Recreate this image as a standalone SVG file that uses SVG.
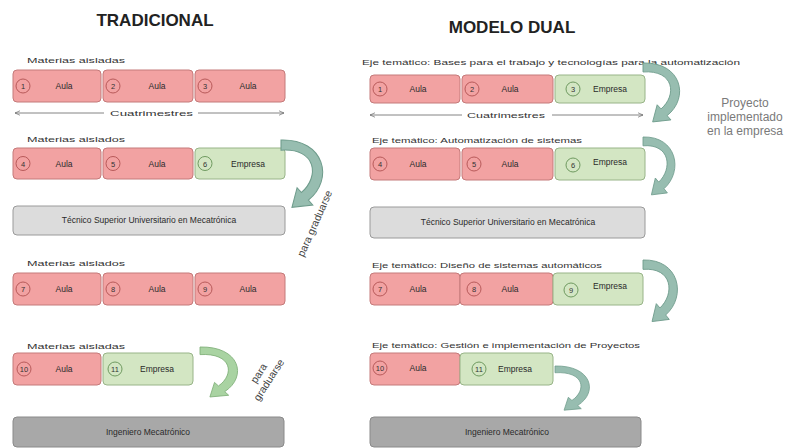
<svg xmlns="http://www.w3.org/2000/svg" width="800" height="448" viewBox="0 0 800 448">
<style>
text{font-family:"Liberation Sans",Arial,sans-serif;fill:#333}
.title{font-size:17px;font-weight:bold;fill:#222}
.lbl{font-size:8px}
.bt{font-size:8.5px;text-anchor:middle;fill:#2a2a2a}
.num{font-size:7.5px;text-anchor:middle}
.red{fill:#f2a2a2;stroke:#c47a7a;stroke-width:1}
.grn{fill:#d3e6c3;stroke:#98b488;stroke-width:1}
.lg{fill:#dcdcdc;stroke:#9a9a9a;stroke-width:1}
.dg{fill:#a8a8a8;stroke:#8a8a8a;stroke-width:1}
.cr{fill:none;stroke:#b85a5a;stroke-width:1}
.cg{fill:none;stroke:#6f9a60;stroke-width:1}
.ln{stroke:#666;stroke-width:0.8;fill:none}
.ca{fill:#97bdb0;stroke:#6f9c8c;stroke-width:0.8}
.cag{fill:#a9d3a2;stroke:#7faf78;stroke-width:0.8}
.rot{font-size:10.5px;text-anchor:middle;fill:#444}
.proj{font-size:12px;fill:#7a7a7a;text-anchor:middle}
</style>
<defs>
<marker id="oa" viewBox="0 0 10 10" refX="9" refY="5" markerWidth="7" markerHeight="7" orient="auto-start-reverse">
<path d="M0,1 L9,5 L0,9" fill="none" stroke="#666" stroke-width="1.2"/>
</marker>
<path id="carrow" d="M0,0 C33,-1 40,31 20.6,47 L23.9,50.8 L8.25,52.6 L12.1,37.3 L15.4,41 C29,29 27,6 0,8 Z"/>
</defs>
<rect width="800" height="448" fill="#fff"/>

<text class="title" x="155" y="26" text-anchor="middle">TRADICIONAL</text>
<text class="title" x="512" y="33" text-anchor="middle">MODELO DUAL</text>

<!-- LEFT COLUMN -->
<text class="lbl" x="27" y="63" textLength="98" lengthAdjust="spacingAndGlyphs">Materias aisladas</text>
<g id="L1"><rect class="red" x="13" y="70" width="88" height="32" rx="4"/><circle class="cr" cx="23" cy="86" r="7"/><text class="num" x="23" y="89">1</text><text class="bt" x="64" y="89">Aula</text></g>
<g id="L2"><rect class="red" x="103" y="70" width="90" height="32" rx="4"/><circle class="cr" cx="113" cy="86" r="7"/><text class="num" x="113" y="89">2</text><text class="bt" x="157" y="89">Aula</text></g>
<g id="L3"><rect class="red" x="195" y="70" width="90" height="32" rx="4"/><circle class="cr" cx="205" cy="86" r="7"/><text class="num" x="205" y="89">3</text><text class="bt" x="248" y="89">Aula</text></g>
<text class="lbl" x="110" y="116" textLength="83" lengthAdjust="spacingAndGlyphs">Cuatrimestres</text>

<text class="lbl" x="27" y="142" textLength="98" lengthAdjust="spacingAndGlyphs">Materias aislados</text>
<g id="L4"><rect class="red" x="13" y="148" width="88" height="31" rx="4"/><circle class="cr" cx="23" cy="163.5" r="7"/><text class="num" x="23" y="166.5">4</text><text class="bt" x="64" y="166.5">Aula</text></g>
<g id="L5"><rect class="red" x="103" y="148" width="90" height="31" rx="4"/><circle class="cr" cx="113" cy="163.5" r="7"/><text class="num" x="113" y="166.5">5</text><text class="bt" x="157" y="166.5">Aula</text></g>
<g id="L6"><rect class="grn" x="195" y="148" width="90" height="31" rx="4"/><circle class="cg" cx="205" cy="163.5" r="7"/><text class="num" x="205" y="166.5">6</text><text class="bt" x="248" y="166.5">Empresa</text></g>
<g id="LTSU"><rect class="lg" x="13" y="206" width="272" height="29" rx="4"/><text class="bt" x="149" y="223">Técnico Superior Universitario en Mecatrónica</text></g>

<text class="lbl" x="27" y="266" textLength="98" lengthAdjust="spacingAndGlyphs">Materias aislados</text>
<g id="L7"><rect class="red" x="13" y="273" width="88" height="32" rx="4"/><circle class="cr" cx="23" cy="289" r="7"/><text class="num" x="23" y="292">7</text><text class="bt" x="64" y="292">Aula</text></g>
<g id="L8"><rect class="red" x="103" y="273" width="90" height="32" rx="4"/><circle class="cr" cx="113" cy="289" r="7"/><text class="num" x="113" y="292">8</text><text class="bt" x="157" y="292">Aula</text></g>
<g id="L9"><rect class="red" x="195" y="273" width="90" height="32" rx="4"/><circle class="cr" cx="205" cy="289" r="7"/><text class="num" x="205" y="292">9</text><text class="bt" x="248" y="292">Aula</text></g>

<text class="lbl" x="27" y="349" textLength="98" lengthAdjust="spacingAndGlyphs">Materias aisladas</text>
<g id="L10"><rect class="red" x="13" y="353" width="88" height="32" rx="4"/><circle class="cr" cx="24" cy="369" r="7"/><text class="num" x="24" y="372">10</text><text class="bt" x="64" y="372">Aula</text></g>
<g id="L11"><rect class="grn" x="103" y="353" width="90" height="32" rx="4"/><circle class="cg" cx="115" cy="369" r="7"/><text class="num" x="115" y="372">11</text><text class="bt" x="157" y="372">Empresa</text></g>
<g id="LING"><rect class="dg" x="13" y="417" width="271" height="30" rx="4"/><text class="bt" x="148" y="435">Ingeniero Mecatrónico</text></g>

<text class="rot" transform="translate(318,225) rotate(-66)">para graduarse</text>
<text class="rot" transform="translate(266,378) rotate(-57)"><tspan x="0" y="-5">para</tspan><tspan x="0" y="7">graduarse</tspan></text>

<!-- RIGHT COLUMN -->
<text class="lbl" x="362" y="65" textLength="378" lengthAdjust="spacingAndGlyphs">Eje temático: Bases para el trabajo y tecnologías para la automatización</text>
<g id="R1"><rect class="red" x="370" y="75" width="90" height="28" rx="4"/><circle class="cr" cx="380" cy="89" r="7"/><text class="num" x="380" y="92">1</text><text class="bt" x="418" y="92">Aula</text></g>
<g id="R2"><rect class="red" x="462" y="75" width="91" height="28" rx="4"/><circle class="cr" cx="472" cy="89" r="7"/><text class="num" x="472" y="92">2</text><text class="bt" x="510" y="92">Aula</text></g>
<g id="R3"><rect class="grn" x="555" y="75" width="90" height="28" rx="4"/><circle class="cg" cx="573" cy="89" r="7"/><text class="num" x="573" y="92">3</text><text class="bt" x="610" y="92">Empresa</text></g>
<text class="lbl" x="467" y="118" textLength="78" lengthAdjust="spacingAndGlyphs">Cuatrimestres</text>

<text class="lbl" x="372" y="143" textLength="210" lengthAdjust="spacingAndGlyphs">Eje temático: Automatización de sistemas</text>
<g id="R4"><rect class="red" x="370" y="148" width="90" height="32" rx="4"/><circle class="cr" cx="380" cy="164" r="7"/><text class="num" x="380" y="167">4</text><text class="bt" x="418" y="167">Aula</text></g>
<g id="R5"><rect class="red" x="462" y="148" width="91" height="32" rx="4"/><circle class="cr" cx="474" cy="164" r="7"/><text class="num" x="474" y="167">5</text><text class="bt" x="510" y="167">Aula</text></g>
<g id="R6"><rect class="grn" x="555" y="148" width="90" height="32" rx="4"/><circle class="cg" cx="573" cy="165" r="7"/><text class="num" x="573" y="168">6</text><text class="bt" x="610" y="165">Empresa</text></g>
<g id="RTSU"><rect class="lg" x="370" y="207" width="275" height="31" rx="4"/><text class="bt" x="508" y="225">Técnico Superior Universitario en Mecatrónica</text></g>

<text class="lbl" x="372" y="268" textLength="230" lengthAdjust="spacingAndGlyphs">Eje temático: Diseño de sistemas automáticos</text>
<g id="R7"><rect class="red" x="370" y="273" width="90" height="32" rx="4"/><circle class="cr" cx="380" cy="289" r="7"/><text class="num" x="380" y="292">7</text><text class="bt" x="418" y="292">Aula</text></g>
<g id="R8"><rect class="red" x="460" y="273" width="93" height="32" rx="4"/><circle class="cr" cx="474" cy="289" r="7"/><text class="num" x="474" y="292">8</text><text class="bt" x="510" y="292">Aula</text></g>
<g id="R9"><rect class="grn" x="553" y="273" width="90" height="32" rx="4"/><circle class="cg" cx="571" cy="290" r="7"/><text class="num" x="571" y="293">9</text><text class="bt" x="610" y="289">Empresa</text></g>

<text class="lbl" x="372" y="348" textLength="268" lengthAdjust="spacingAndGlyphs">Eje temático: Gestión e implementación de Proyectos</text>
<g id="R10"><rect class="red" x="370" y="353" width="90" height="32" rx="4"/><circle class="cr" cx="380" cy="368" r="7"/><text class="num" x="380" y="371">10</text><text class="bt" x="418" y="371">Aula</text></g>
<g id="R11"><rect class="grn" x="460" y="353" width="93" height="32" rx="4"/><circle class="cg" cx="479" cy="369" r="7"/><text class="num" x="479" y="372">11</text><text class="bt" x="515" y="372">Empresa</text></g>
<g id="RING"><rect class="dg" x="370" y="417" width="271" height="30" rx="4"/><text class="bt" x="507" y="435">Ingeniero Mecatrónico</text></g>

<text class="proj"><tspan x="745" y="107">Proyecto</tspan><tspan x="745" y="121">implementado</tspan><tspan x="745" y="135">en la empresa</tspan></text>

<!-- CONNECTORS -->
<g id="connectors">
<line class="ln" x1="15" y1="113" x2="104" y2="113" marker-start="url(#oa)"/>
<line class="ln" x1="198" y1="113" x2="284" y2="113" marker-end="url(#oa)"/>
<line class="ln" x1="370" y1="115" x2="462" y2="115" marker-start="url(#oa)"/>
<line class="ln" x1="552" y1="115" x2="643" y2="115" marker-end="url(#oa)"/>
<use href="#carrow" class="ca" transform="translate(281,140) scale(1.33,1.28)"/>
<use href="#carrow" class="cag" transform="translate(200,347) scale(1.2,0.95)"/>
<use href="#carrow" class="ca" transform="translate(643,63) scale(1.17,1.12)"/>
<use href="#carrow" class="ca" transform="translate(643,137) scale(1.02,1.1)"/>
<use href="#carrow" class="ca" transform="translate(643,260) scale(1.1,1.17)"/>
<use href="#carrow" class="ca" transform="translate(555,366) scale(1.1,0.84)"/>
</g>
</svg>
